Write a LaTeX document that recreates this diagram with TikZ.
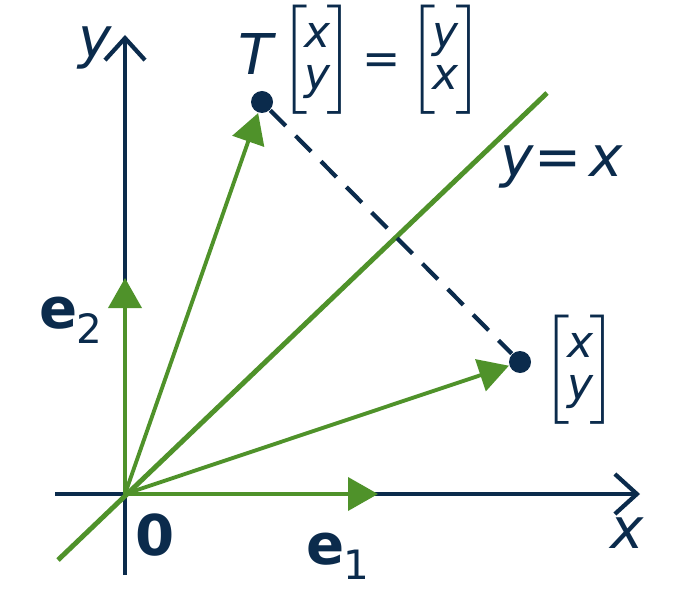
\RequirePackage{fix-cm}
\documentclass[tikz,border=0pt]{standalone}
\usepackage{amsmath}
\usepackage{fontspec}
\setmainfont{DejaVu Sans}
\usetikzlibrary{arrows.meta, positioning}
\definecolor{navy}{HTML}{0B2B4C}
\definecolor{leaf}{HTML}{4F922A}
\newcommand{\colvec}[2]{$\left[\kern-1pt\vcenter to 0.82cm{\vss\hbox{\fontsize{12.5}{12.5}\selectfont\itshape\renewcommand{\arraystretch}{0.95}\begin{tabular}{@{}c@{}}#1\\#2\end{tabular}}\vss}\kern-1pt\right]$}
\newcommand{\basevec}[1]{\bfseries e\kern-0.5pt\raisebox{-0.15cm}{\fontsize{11.5}{12}\selectfont\mdseries #1}}
\tikzstyle{axis} = [navy, line width=1.2pt, -{Straight Barb[length=0.22cm, width=0.40cm]}]
\tikzstyle{vec} = [leaf, line width=1.1pt, -{Triangle[length=0.30cm, width=0.33cm]}]
\tikzstyle{diag} = [leaf, line width=1.4pt]
\tikzstyle{proj} = [navy, line width=1.2pt, dash pattern=on 0.22cm off 0.14cm]
\tikzstyle{pointdot} = [circle, fill=navy, inner sep=0pt, minimum size=0.22cm]
\tikzstyle{lbl} = [text=navy, inner sep=1pt, font=\fontsize{16}{19}\selectfont]

\begin{document}
\begin{tikzpicture}
		\useasboundingbox (-1.25,-1.18) rectangle (5.72,4.94);
		%坐标轴
		\coordinate (O) at (0,0);
		\coordinate (xlo) at (-0.70,0);
		\coordinate (xhi) at (5.15,0);
		\coordinate (ylo) at (0,-0.81);
		\coordinate (yhi) at (0,4.59);
		\draw [axis] (xlo) -- (xhi);
		\draw [axis] (ylo) -- (yhi);
		\node (xlbl) [lbl] at (5.02,-0.39) {\itshape x};
		\node (ylbl) [lbl] at (-0.30,4.46) {\itshape y};
		\node (zero) [lbl] at (0.30,-0.41) {\bfseries 0};
		
		%直线 y = x
		\coordinate (diaglo) at (-0.67,-0.66);
		\coordinate (diaghi) at (4.22,4.01);
		\draw [diag] (diaglo) -- (diaghi);
		\node (diaglbl) [lbl] at (4.37,3.27) {\itshape y\upshape=\hspace{0.15em}\itshape x};
		
		%基向量
		\coordinate (e1) at (2.53,0);
		\coordinate (e2) at (0,2.16);
		\draw [vec] (O) -- (e1);
		\draw [vec] (O) -- (e2);
		\node (e1lbl) [lbl] at (2.13,-0.62) {\basevec{1}};
		\node (e2lbl) [lbl] at (-0.54,1.74) {\basevec{2}};
		
		%向量及其像
		\node (vdot) [pointdot] at (3.95,1.32) {};
		\node (tdot) [pointdot] at (1.37,3.92) {};
		\draw [vec] (O) -- (vdot);
		\draw [vec] (O) -- (tdot);
		\draw [proj] (tdot) -- (vdot);
		\node (vlbl) [lbl, right=0.06cm of vdot, yshift=-0.08cm] {\colvec{x}{y}};
		\node (tlbl) [lbl] at (2.36,4.34) {\itshape T\upshape\hspace{0.12em}\colvec{x}{y}\hspace{0.12em}{\fontsize{13}{13}\selectfont=}\hspace{0.12em}\colvec{y}{x}};
	\end{tikzpicture}
\end{document}
